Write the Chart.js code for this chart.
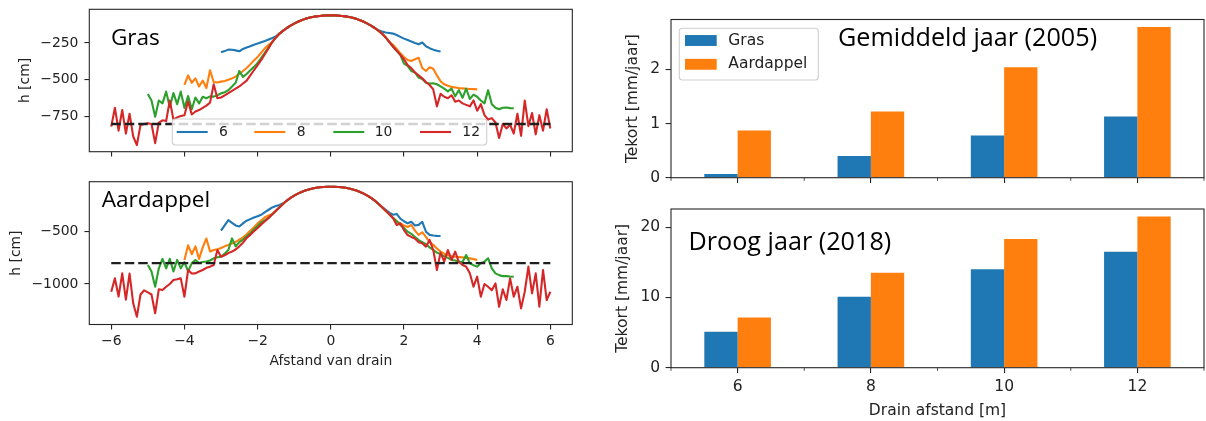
<!DOCTYPE html>
<html lang="nl">
<head>
<meta charset="utf-8">
<title>Drukhoogte en vochttekort</title>
<script src="https://cdn.jsdelivr.net/npm/chart.js@4.4.1/dist/chart.umd.min.js"></script>
<style>
  html, body { margin: 0; padding: 0; background: #fff; }
  body { position: relative; width: 1206px; height: 421px; overflow: hidden; }
  canvas { position: absolute; }
  .titel { position: absolute; font-family: 'Open Sans', sans-serif; line-height: 1; white-space: nowrap; color: #000; }
</style>
</head>
<body>
<canvas id="gras" width="585" height="165" style="left:0;top:0"></canvas>
<canvas id="aardappel" width="585" height="220" style="left:0;top:165px"></canvas>
<canvas id="tekort2005" width="616" height="195" style="left:590px;top:0"></canvas>
<canvas id="tekort2018" width="616" height="226" style="left:590px;top:195px"></canvas>
<div class="titel" style="left:110.9px;top:25.6px;font-size:22.6px">Gras</div>
<div class="titel" style="left:101.7px;top:188.2px;font-size:22.6px">Aardappel</div>
<div class="titel" style="left:838px;top:24.3px;font-size:25.2px">Gemiddeld jaar (2005)</div>
<div class="titel" style="left:688.5px;top:227.6px;font-size:25.2px">Droog jaar (2018)</div>
<script>
// ---------- data ----------
// Afstand tot de drain [m]; gedeeld raster, elke reeks ligt symmetrisch rond 0
const afstand = [
  -6,-5.9,-5.8,-5.7,-5.6,-5.5,-5.4,-5.3,-5.2,-5.1,
  -5,-4.9,-4.8,-4.7,-4.6,-4.5,-4.4,-4.3,-4.2,-4.1,
  -4,-3.9,-3.8,-3.7,-3.6,-3.5,-3.4,-3.3,-3.2,-3.1,
  -3,-2.9,-2.8,-2.7,-2.6,-2.5,-2.4,-2.3,-2.2,-2.1,
  -2,-1.9,-1.8,-1.7,-1.6,-1.5,-1.4,-1.3,-1.2,-1.1,
  -1,-0.9,-0.8,-0.7,-0.6,-0.5,-0.4,-0.3,-0.2,-0.1,
  0,
  0.1,0.2,0.3,0.4,0.5,0.6,0.7,0.8,0.9,1,
  1.1,1.2,1.3,1.4,1.5,1.6,1.7,1.8,1.9,2,
  2.1,2.2,2.3,2.4,2.5,2.6,2.7,2.8,2.9,3,
  3.1,3.2,3.3,3.4,3.5,3.6,3.7,3.8,3.9,4,
  4.1,4.2,4.3,4.4,4.5,4.6,4.7,4.8,4.9,5,
  5.1,5.2,5.3,5.4,5.5,5.6,5.7,5.8,5.9,6
];
const xTickWaarden = [-6, -4, -2, 0, 2, 4, 6];

// Drainafstanden [m]
const drainAfstanden = [6, 8, 10, 12];

// Drukhoogte h [cm] onder gras
const grasH6 = [
  -313,-305,-295,-296,-300,-306,-290,-280,-272,-262,-254,-245,-236,-226,-216,-205,-184,-166,
  -148,-132,-118,-106,-95,-86,-79,-73,-69,-66,-64,-62,-62,-62,-64,-66,-69,-73,-79,-86,-95,-106,-118,-132,-148,
  -163,-172,-178,-182,-186,-196,-208,-220,-230,-240,-250,-258,-247,-272,-285,-295,-302,-307
];
const grasH8 = [
  -535,-470,-520,-490,-545,-505,-555,-435,-515,-518,-512,-508,-500,-490,-478,-460,-440,-420,-395,-368,-345,-315,-285,-262,
  -243,-212,-186,-166,-148,-132,-118,-106,-95,-86,-79,-73,-69,-66,-64,-62,-62,-62,-64,-66,-69,-73,-79,-86,-95,-106,-118,-132,-148,-166,-186,-212,-243,
  -262,-290,-320,-345,-365,-372,-360,-350,-420,-440,-415,-425,-470,-510,-530,-540,-548,-552,-556,-558,-560,-562,-563,-565
];
const grasH10 = [
  -596,-640,-750,-640,-660,-580,-685,-590,-665,-580,-690,-610,-700,-620,-660,-615,-625,-612,-614,-605,
  -592,-585,-570,-545,-520,-440,-480,-460,-435,-412,-385,-350,-315,-280,
  -243,-212,-186,-166,-148,-132,-118,-106,-95,-86,-79,-73,-69,-66,-64,-62,-62,-62,-64,-66,-69,-73,-79,-86,-95,-106,-118,-132,-148,-166,-186,-212,-243,
  -275,-305,-330,-390,-405,-440,-450,-485,-495,-520,-525,-523,-530,-545,-560,-578,-560,-612,-570,-622,
  -560,-630,-600,-615,-640,-660,-570,-665,-690,-700,-690,-688,-692,-693
];
const grasH12 = [
  -818,-690,-845,-705,-865,-730,-885,-943,-807,-800,-795,-800,-930,-790,-775,-780,-640,-770,-755,-745,
  -740,-645,-735,-715,-705,-690,-675,-655,-530,-625,-620,-605,-590,-575,-560,-545,-525,-505,-470,-435,
  -400,-365,-325,-285,
  -243,-212,-186,-166,-148,-132,-118,-106,-95,-86,-79,-73,-69,-66,-64,-62,-62,-62,-64,-66,-69,-73,-79,-86,-95,-106,-118,-132,-148,-166,-186,-212,-243,
  -275,-300,-330,-360,-400,-420,-450,-470,-490,-515,-535,-565,-680,-595,-615,-625,-605,-648,-640,-660,
  -670,-680,-640,-710,-665,-740,-770,-760,-790,-895,-800,-830,-805,-865,-730,-880,-640,-815,-725,-870,
  -740,-845,-700,-830
];

// Drukhoogte h [cm] onder aardappel
const aardH6 = [
  -490,-440,-390,-415,-440,-450,-420,-395,-380,-365,-352,-338,-312,-290,-268,-255,-245,-228,
  -202,-177,-155,-136,-120,-107,-96,-87,-80,-75,-72,-70,-70,-70,-72,-75,-80,-87,-96,-107,-120,-136,-155,-177,-202,
  -232,-262,-290,-318,-338,-330,-375,-400,-420,-405,-440,-435,-405,-500,-530,-536,-540,-541
];
const aardH8 = [
  -770,-630,-715,-640,-760,-650,-565,-690,-675,-668,-655,-640,-627,-612,-598,-575,-555,-525,-490,-458,-420,-390,-362,-345,
  -334,-300,-266,-233,-202,-177,-155,-136,-120,-107,-96,-87,-80,-75,-72,-70,-70,-70,-72,-75,-80,-87,-96,-107,-120,-136,-155,-177,-202,-233,-266,-300,-334,
  -368,-400,-420,-440,-455,-436,-490,-530,-505,-550,-600,-625,-660,-690,-710,-725,-735,-740,-742,-745,-750,-755,-762,-770
];
const aardH10 = [
  -818,-880,-1026,-850,-760,-850,-760,-880,-770,-850,-790,-880,-800,-770,-800,-790,-785,-775,-754,-745,
  -739,-710,-675,-564,-640,-600,-575,-545,-515,-480,-445,-410,-390,-368,
  -334,-300,-266,-233,-202,-177,-155,-136,-120,-107,-96,-87,-80,-75,-72,-70,-70,-70,-72,-75,-80,-87,-96,-107,-120,-136,-155,-177,-202,-233,-266,-300,-334,
  -368,-400,-435,-465,-500,-520,-550,-580,-600,-620,-650,-675,-700,-715,-735,-750,-770,-775,-786,-790,
  -723,-802,-820,-834,-800,-786,-754,-850,-898,-915,-925,-925,-928,-930
];
const aardH12 = [
  -1074,-946,-1120,-898,-1150,-900,-1184,-1313,-1100,-1060,-1080,-1100,-1280,-1050,-1058,-1026,-1000,-962,-955,-946,
  -1121,-866,-900,-898,-880,-866,-845,-834,-818,-675,-739,-725,-705,-690,-670,-640,-605,-560,-530,-495,
  -465,-430,-400,-368,
  -334,-300,-266,-233,-202,-177,-155,-136,-120,-107,-96,-87,-80,-75,-72,-70,-70,-70,-72,-75,-80,-87,-96,-107,-120,-136,-155,-177,-202,-233,-266,-300,-334,
  -368,-436,-420,-484,-532,-550,-564,-600,-611,-643,-579,-675,-866,-700,-786,-675,-770,-691,-790,-818,
  -834,-898,-1026,-930,-1121,-1000,-1026,-1060,-994,-1217,-1050,-1153,-946,-1121,-1026,-1233,-1074,-834,-1090,-898,
  -1217,-866,-1153,-1074
];

// Grenswaarde drukhoogte [cm] (stippellijn)
const grensH = -800;
const grensX = [-6, 6];

// Vochttekort [mm/jaar]
const tekort2005Gras = [0.07, 0.40, 0.78, 1.13];
const tekort2005Aardappel = [0.87, 1.22, 2.04, 2.78];
const tekort2018Gras = [5.1, 10.1, 14.0, 16.5];
const tekort2018Aardappel = [7.15, 13.5, 18.3, 21.5];

// Asindeling
const grasYTicks = [-750, -500, -250];
const aardYTicks = [-1000, -500];
const tekort2005Ticks = [0, 1, 2];
const tekort2018Ticks = [0, 10, 20];

// ---------- opmaak ----------
const kleuren = { 6: '#1f77b4', 8: '#ff7f0e', 10: '#2ca02c', 12: '#d62728' };
const BLAUW = '#1f77b4', ORANJE = '#ff7f0e';
const FAM = "'DejaVu Sans'";
const TXT = '#222';
const minteken = v => String(v).replace('-', '\u2212');

function punten(waarden) {
  const start = (afstand.length - waarden.length) / 2;
  return waarden.map((h, i) => ({ x: afstand[start + i], y: h }));
}

// Kader rond het plotvlak, plus kleine tussenstreepjes op de categorie-as
const kader = {
  id: 'kader',
  afterDatasetsDraw(chart, args, o) {
    const { ctx, chartArea: a } = chart;
    ctx.save();
    ctx.strokeStyle = '#262626';
    ctx.lineWidth = o.lw || 1.1;
    ctx.strokeRect(a.left, a.top, a.right - a.left, a.bottom - a.top);
    if (o.tussen) {
      const sx = chart.scales.x;
      const n = chart.data.labels.length;
      ctx.lineWidth = 0.8;
      for (let i = 0; i <= n; i++) {
        let px;
        if (i === 0) px = a.left;
        else if (i === n) px = a.right;
        else px = (sx.getPixelForValue(i - 1) + sx.getPixelForValue(i)) / 2;
        ctx.beginPath();
        ctx.moveTo(px, a.bottom);
        ctx.lineTo(px, a.bottom + o.tussen);
        ctx.stroke();
      }
    }
    ctx.restore();
  }
};

// Legenda binnen het plotvlak
const binnenLegenda = {
  id: 'binnenLegenda',
  afterDraw(chart, args, o) {
    if (!o || !o.items) return;
    const { ctx, chartArea: a } = chart;
    const bx = a.left + o.x, by = a.top + o.y;
    ctx.save();
    ctx.beginPath();
    ctx.roundRect(bx, by, o.w, o.h, o.r);
    ctx.fillStyle = 'rgba(255,255,255,0.8)';
    ctx.fill();
    ctx.lineWidth = 1.1;
    ctx.strokeStyle = '#cfcfcf';
    ctx.stroke();
    ctx.font = o.size + 'px ' + FAM;
    ctx.textBaseline = 'middle';
    o.items.forEach(it => {
      const cy = by + it.y;
      if (it.soort === 'lijn') {
        ctx.beginPath();
        ctx.moveTo(bx + it.hx, cy);
        ctx.lineTo(bx + it.hx + it.hw, cy);
        ctx.strokeStyle = it.kleur;
        ctx.lineWidth = 2.1;
        ctx.stroke();
      } else {
        ctx.fillStyle = it.kleur;
        ctx.fillRect(bx + it.hx, cy - it.hh / 2, it.hw, it.hh);
      }
      ctx.fillStyle = TXT;
      ctx.fillText(it.label, bx + it.tx, cy);
    });
    ctx.restore();
  }
};

Chart.register(kader, binnenLegenda);

function tickGrid(len) {
  return { display: true, drawOnChartArea: false, drawTicks: true, tickLength: len, color: '#262626', lineWidth: 1.1 };
}
function vastePlek(maat, waarde) {
  return s => {
    s[maat] = waarde;
    s.paddingTop = 0; s.paddingBottom = 0; s.paddingLeft = 0; s.paddingRight = 0;
  };
}
function vasteTicks(waarden) {
  return s => { s.ticks = waarden.map(v => ({ value: v })); };
}

function lijnGrafiek(id, reeksen, yMin, yMax, yTicks, o) {
  const datasets = drainAfstanden.map((d, k) => ({
    label: String(d),
    data: punten(reeksen[k]),
    borderColor: kleuren[d],
    borderWidth: 2.1,
    borderJoinStyle: 'round',
    pointRadius: 0,
    order: drainAfstanden.length - k
  }));
  datasets.push({
    label: 'grens',
    data: grensX.map(x => ({ x: x, y: grensH })),
    borderColor: '#1e1e1e',
    borderWidth: 2.4,
    borderDash: [9.5, 4],
    pointRadius: 0,
    order: 0
  });
  const font = { family: FAM, size: 13.9 };
  new Chart(document.getElementById(id), {
    type: 'line',
    data: { datasets },
    options: {
      responsive: false,
      animation: false,
      events: [],
      layout: { autoPadding: false, padding: o.padding },
      plugins: {
        legend: { display: false },
        tooltip: { enabled: false },
        kader: { lw: 1.1 },
        binnenLegenda: o.legenda || false
      },
      scales: {
        x: {
          type: 'linear', min: -6.6, max: 6.6,
          afterBuildTicks: vasteTicks(xTickWaarden),
          afterFit: vastePlek('height', o.xHoogte),
          grid: tickGrid(4.9),
          border: { display: false },
          ticks: { display: o.xLabels, padding: 4, color: TXT, font, maxRotation: 0, autoSkip: false, callback: v => minteken(v) },
          title: { display: o.xLabels, text: 'Afstand van drain', color: TXT, font, padding: { top: 0, bottom: o.xTitelPad || 0 } }
        },
        y: {
          type: 'linear', min: yMin, max: yMax,
          afterBuildTicks: vasteTicks(yTicks),
          afterFit: vastePlek('width', o.yBreedte),
          grid: tickGrid(4.9),
          border: { display: false },
          ticks: { padding: 6, color: TXT, font, callback: v => minteken(v) },
          title: { display: true, text: 'h [cm]', color: TXT, font, padding: { top: o.yTitelPad, bottom: 0 } }
        }
      }
    }
  });
}

function staafGrafiek(id, gras, aardappel, yMax, yTicks, o) {
  const font = { family: FAM, size: 15.5 };
  new Chart(document.getElementById(id), {
    type: 'bar',
    data: {
      labels: drainAfstanden.map(String),
      datasets: [
        { label: 'Gras', data: gras, backgroundColor: BLAUW, categoryPercentage: 0.5, barPercentage: 1.0 },
        { label: 'Aardappel', data: aardappel, backgroundColor: ORANJE, categoryPercentage: 0.5, barPercentage: 1.0 }
      ]
    },
    options: {
      responsive: false,
      animation: false,
      events: [],
      layout: { autoPadding: false, padding: o.padding },
      plugins: {
        legend: { display: false },
        tooltip: { enabled: false },
        kader: { lw: 1.1, tussen: 3.1 },
        binnenLegenda: o.legenda || false
      },
      scales: {
        x: {
          afterFit: vastePlek('height', o.xHoogte),
          grid: Object.assign(tickGrid(5.4), { offset: false }),
          border: { display: false },
          ticks: { display: o.xLabels, padding: 4.3, color: TXT, font, maxRotation: 0, autoSkip: false },
          title: { display: o.xLabels, text: 'Drain afstand [m]', color: TXT, font, padding: { top: 0, bottom: o.xTitelPad || 0 } }
        },
        y: {
          min: 0, max: yMax,
          afterBuildTicks: vasteTicks(yTicks),
          afterFit: vastePlek('width', o.yBreedte),
          grid: tickGrid(5.4),
          border: { display: false },
          ticks: { padding: 5.5, color: TXT, font },
          title: { display: true, text: 'Tekort [mm/jaar]', color: TXT, font, padding: { top: o.yTitelPad, bottom: 0 } }
        }
      }
    }
  });
}

// Legenda van de lijnfiguur: één rij met vier drainafstanden
const lijnHx = [4.4, 82, 161, 247.7];
const lijnTx = [46.7, 124.4, 202.4, 290];
const lijnLegenda = {
  x: 83, y: 109.7, w: 314.4, h: 26, r: 3, size: 13.9,
  items: drainAfstanden.map((d, k) => ({
    soort: 'lijn', kleur: kleuren[d], label: String(d), hx: lijnHx[k], hw: 31, tx: lijnTx[k], y: 13
  }))
};

const staafLegenda = {
  x: 8.3, y: 8.8, w: 139, h: 51.7, r: 3, size: 15.5,
  items: [
    { soort: 'vlak', kleur: BLAUW, label: 'Gras', hx: 5.7, hw: 31.7, hh: 10.9, tx: 49, y: 12.2 },
    { soort: 'vlak', kleur: ORANJE, label: 'Aardappel', hx: 5.7, hw: 31.7, hh: 10.9, tx: 49, y: 36 }
  ]
};

lijnGrafiek('gras', [grasH6, grasH8, grasH10, grasH12], -988, -21, grasYTicks, {
  padding: { top: 9.3, right: 12.7, left: 0, bottom: 0 },
  yBreedte: 89.3, xHoogte: 13.3, xLabels: false, yTitelPad: 17.5,
  legenda: lijnLegenda
});
lijnGrafiek('aardappel', [aardH6, aardH8, aardH10, aardH12], -1387, -22, aardYTicks, {
  padding: { top: 16.7, right: 12.7, left: 0, bottom: 0 },
  yBreedte: 89.3, xHoogte: 60.5, xLabels: true, xTitelPad: 15, yTitelPad: 8.4
});
staafGrafiek('tekort2005', tekort2005Gras, tekort2005Aardappel, 2.919, tekort2005Ticks, {
  padding: { top: 19.5, right: 2, left: 0, bottom: 0 },
  yBreedte: 81, xHoogte: 17.3, xLabels: false, yTitelPad: 33.5,
  legenda: staafLegenda
});
staafGrafiek('tekort2018', tekort2018Gras, tekort2018Aardappel, 22.575, tekort2018Ticks, {
  padding: { top: 14, right: 2, left: 0, bottom: 0 },
  yBreedte: 81, xHoogte: 53.3, xLabels: true, xTitelPad: 1.2, yTitelPad: 23.7
});
</script>
</body>
</html>
